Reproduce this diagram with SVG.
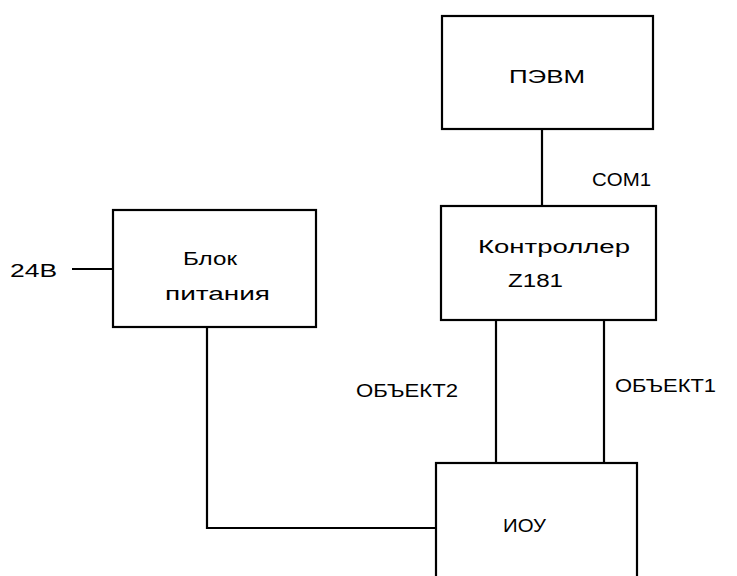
<svg xmlns="http://www.w3.org/2000/svg" width="737" height="576" viewBox="0 0 737 576">
<style>
.box{fill:#fff;stroke:#000;stroke-width:2.2}
.ln{fill:none;stroke:#000;stroke-width:2.2}
text{font-family:"Liberation Sans",Arial,sans-serif;font-size:18px;fill:#000}
</style>
<rect width="737" height="576" fill="#fff"/>
<g id="connectors">
<line class="ln" x1="542" y1="129" x2="542" y2="206"/>
<line class="ln" x1="72" y1="269" x2="113" y2="269"/>
<polyline class="ln" points="207,327 207,528 436,528"/>
<line class="ln" x1="496" y1="320" x2="496" y2="463"/>
<line class="ln" x1="604" y1="320" x2="604" y2="463"/>
<text x="592" y="186" textLength="59" lengthAdjust="spacingAndGlyphs">COM1</text>
<text x="10" y="277" textLength="47" lengthAdjust="spacingAndGlyphs">24В</text>
<text x="356" y="397" textLength="102" lengthAdjust="spacingAndGlyphs">ОБЪЕКТ2</text>
<text x="615" y="392" textLength="101" lengthAdjust="spacingAndGlyphs">ОБЪЕКТ1</text>
</g>
<g id="pevm">
<rect class="box" x="442" y="16" width="211" height="113"/>
<text x="509" y="83" textLength="76" lengthAdjust="spacingAndGlyphs">ПЭВМ</text>
</g>
<g id="controller">
<rect class="box" x="441" y="206" width="215" height="114"/>
<text x="478" y="253" textLength="152" lengthAdjust="spacingAndGlyphs">Контроллер</text>
<text x="508" y="287" textLength="55" lengthAdjust="spacingAndGlyphs">Z181</text>
</g>
<g id="power">
<rect class="box" x="113" y="210" width="203" height="117"/>
<text x="183" y="265" textLength="54" lengthAdjust="spacingAndGlyphs">Блок</text>
<text x="165" y="300" textLength="105" lengthAdjust="spacingAndGlyphs">питания</text>
</g>
<g id="iou">
<rect class="box" x="436" y="463" width="201" height="130"/>
<text x="503" y="532" textLength="43" lengthAdjust="spacingAndGlyphs">ИОУ</text>
</g>
</svg>
